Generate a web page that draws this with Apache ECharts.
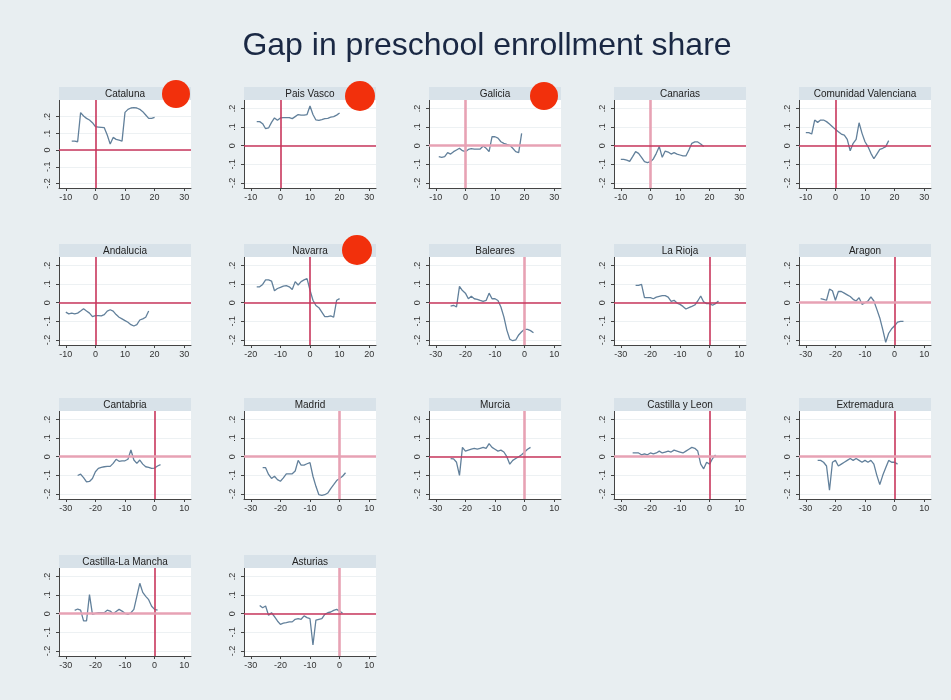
<!DOCTYPE html>
<html lang="en">
<head>
<meta charset="utf-8">
<title>Gap in preschool enrollment share</title>
<script src="https://cdn.jsdelivr.net/npm/echarts@6/dist/echarts.min.js"></script>
<style>
  html, body { margin: 0; padding: 0; background: #e8eef1; }
  #chart { width: 951px; height: 700px; }
</style>
</head>
<body>
<div id="chart"></div>
<script>
// ---- data ----
const regions = ['Cataluna', 'Pais Vasco', 'Galicia', 'Canarias', 'Comunidad Valenciana',
  'Andalucia', 'Navarra', 'Baleares', 'La Rioja', 'Aragon',
  'Cantabria', 'Madrid', 'Murcia', 'Castilla y Leon', 'Extremadura',
  'Castilla-La Mancha', 'Asturias'];

// first period of each region's series (one value per period after that)
const startT = [-8, -8, -9, -10, -10, -10, -18, -25, -25, -25, -26, -26, -25, -26, -26, -27, -27];

const cataluna = [0.054, 0.054, 0.05, 0.224, 0.204, 0.19, 0.18, 0.164, 0.14, 0.138, 0.136, 0.134, 0.09, 0.036, 0.076, 0.064, 0.06, 0.054, 0.226, 0.244, 0.252, 0.254, 0.252, 0.244, 0.23, 0.21, 0.19, 0.19, 0.196];
const paisVasco = [0.129, 0.129, 0.118, 0.091, 0.095, 0.125, 0.149, 0.136, 0.149, 0.151, 0.151, 0.151, 0.145, 0.156, 0.167, 0.164, 0.164, 0.167, 0.213, 0.167, 0.138, 0.136, 0.14, 0.145, 0.147, 0.153, 0.156, 0.164, 0.175];
const galicia = [-0.059, -0.0625, -0.059, -0.0375, -0.045, -0.032, -0.023, -0.014, -0.027, -0.032, -0.02, -0.016, -0.018, -0.018, -0.018, -0.002, -0.014, -0.032, 0.048, 0.048, 0.041, 0.021, 0.0125, 0.007, 0.002, -0.014, -0.032, -0.0375, 0.066];
const canarias = [-0.073, -0.073, -0.077, -0.084, -0.059, -0.032, -0.041, -0.0625, -0.086, -0.091, -0.086, -0.071, -0.041, -0.005, -0.0625, -0.029, -0.034, -0.045, -0.0375, -0.045, -0.05, -0.055, -0.055, -0.023, 0.0125, 0.02, 0.02, 0.009, -0.005];
const valenciana = [0.07, 0.07, 0.0625, 0.1375, 0.125, 0.1375, 0.1375, 0.129, 0.116, 0.102, 0.0875, 0.075, 0.0625, 0.057, 0.034, -0.027, 0.0125, 0.034, 0.123, 0.066, 0.021, -0.005, -0.041, -0.07, -0.045, -0.02, -0.014, -0.005, 0.027];
const andalucia = [-0.051, -0.06, -0.056, -0.06, -0.056, -0.045, -0.033, -0.045, -0.056, -0.075, -0.069, -0.069, -0.071, -0.064, -0.045, -0.038, -0.045, -0.064, -0.078, -0.087, -0.096, -0.105, -0.118, -0.125, -0.118, -0.093, -0.087, -0.078, -0.045];
const navarra = [0.085, 0.085, 0.098, 0.122, 0.122, 0.116, 0.064, 0.076, 0.082, 0.089, 0.091, 0.085, 0.071, 0.113, 0.095, 0.113, 0.122, 0.129, 0.067, 0.013, -0.015, -0.027, -0.051, -0.075, -0.075, -0.071, -0.078, 0.013, 0.022];
const baleares = [-0.019, -0.014, -0.023, 0.087, 0.065, 0.051, 0.021, 0.034, 0.021, 0.018, 0.012, 0.007, 0.012, 0.051, 0.021, 0.021, 0.012, -0.023, -0.076, -0.147, -0.196, -0.204, -0.2, -0.173, -0.156, -0.143, -0.143, -0.15, -0.161];
const laRioja = [0.093, 0.093, 0.098, 0.027, 0.027, 0.027, 0.021, 0.03, 0.034, 0.0375, 0.0375, 0.03, 0.007, 0.0125, -0.002, -0.009, -0.02, -0.034, -0.027, -0.02, -0.0125, 0.009, 0.036, 0.004, -0.005, -0.005, -0.014, -0.005, 0.009];
const aragon = [0.022, 0.018, 0.013, 0.073, 0.064, 0.013, 0.06, 0.06, 0.051, 0.042, 0.033, 0.018, 0.009, 0.027, -0.009, 0, 0.009, 0.031, 0.009, -0.036, -0.082, -0.145, -0.213, -0.164, -0.14, -0.124, -0.104, -0.1, -0.1];
const cantabria = [-0.101, -0.094, -0.112, -0.135, -0.133, -0.117, -0.081, -0.063, -0.058, -0.054, -0.052, -0.052, -0.036, -0.014, -0.025, -0.022, -0.022, -0.014, 0.036, -0.018, -0.036, -0.018, -0.04, -0.054, -0.058, -0.063, -0.061, -0.05, -0.043];
const madrid = [-0.059, -0.059, -0.095, -0.117, -0.105, -0.123, -0.132, -0.114, -0.092, -0.092, -0.092, -0.077, -0.02, -0.045, -0.045, -0.038, -0.032, -0.105, -0.159, -0.204, -0.207, -0.204, -0.195, -0.171, -0.15, -0.128, -0.117, -0.105, -0.086];
const murcia = [-0.01, -0.012, -0.03, -0.1, 0.05, 0.03, 0.035, 0.04, 0.045, 0.04, 0.045, 0.05, 0.045, 0.07, 0.05, 0.04, 0.03, 0.035, 0.025, 0, -0.04, -0.02, -0.01, 0, 0.01, 0.025, 0.04, 0.05];
const castillaLeon = [0.02, 0.02, 0.02, 0.01, 0.015, 0.01, 0.02, 0.015, 0.02, 0.03, 0.02, 0.025, 0.03, 0.025, 0.035, 0.03, 0.025, 0.02, 0.03, 0.04, 0.05, 0.045, 0.03, -0.04, -0.065, -0.03, -0.04, -0.01, 0.01];
const extremadura = [-0.02, -0.02, -0.03, -0.05, -0.18, -0.03, -0.02, -0.05, -0.04, -0.03, -0.02, -0.01, -0.02, -0.01, -0.02, -0.03, -0.02, -0.03, -0.02, -0.04, -0.1, -0.15, -0.1, -0.06, -0.02, -0.03, -0.03, -0.04];
const castillaMancha = [0.018, 0.025, 0.019, -0.039, -0.039, 0.102, -0.004, 0.002, 0.005, 0.005, 0.005, 0.019, 0.014, 0, 0.012, 0.023, 0.014, 0.002, -0.004, 0.005, 0.023, 0.093, 0.163, 0.114, 0.093, 0.075, 0.04, 0.023, 0.019];
const asturias = [0.044, 0.032, 0.041, -0.009, 0.005, -0.016, -0.039, -0.057, -0.051, -0.048, -0.044, -0.044, -0.03, -0.027, -0.03, -0.012, -0.021, -0.027, -0.168, -0.034, -0.03, -0.027, -0.004, 0.005, 0.009, 0.018, 0.023, 0.014, 0.002];

const values = [cataluna, paisVasco, galicia, canarias, valenciana, andalucia, navarra, baleares,
  laRioja, aragon, cantabria, madrid, murcia, castillaLeon, extremadura, castillaMancha, asturias];

// tick labels
const xTicksA = [-10, 0, 10, 20, 30];
const xTicksB = [-20, -10, 0, 10, 20];
const xTicksC = [-30, -20, -10, 0, 10];
const xTickSet = [xTicksA, xTicksA, xTicksA, xTicksA, xTicksA, xTicksA, xTicksB, xTicksC,
  xTicksC, xTicksC, xTicksC, xTicksC, xTicksC, xTicksC, xTicksC, xTicksC, xTicksC];
const yTicks = [-0.2, -0.1, 0, 0.1, 0.2];

// regions marked with a red dot
const marked = ['Cataluna', 'Pais Vasco', 'Galicia', 'Navarra'];

// ---- layout / style ----
const colLeft = [59, 244, 429, 614, 799];
const rowTop = [87, 244, 398, 555];
const headH = 13, plotW = 132, plotH = 88;
const yMin = -0.227;
const yMaxOf = name => name === 'Cataluna' ? 0.3 : 0.245;

const thin = { color: '#c8365c', width: 1.6, type: 'solid' };
const thick = { color: '#e7a2b4', width: 2.6, type: 'solid' };
// reference line style per panel: [vertical, horizontal]
const refStyle = [
  [thin, thin], [thin, thin], [thick, thick], [thick, thin], [thin, thin],
  [thin, thin], [thin, thin], [thick, thin], [thin, thin], [thin, thick],
  [thin, thick], [thick, thick], [thick, thin], [thin, thick], [thin, thick],
  [thin, thick], [thick, thin]
];

const font = 'Liberation Sans, Arial, Helvetica, sans-serif';
const axisColor = '#444';

function fmtY(v) {
  if (Math.abs(v) < 1e-9) return '0';
  return (v < 0 ? '-' : '') + '.' + Math.round(Math.abs(v) * 10);
}

const grids = [], xAxes = [], yAxes = [], series = [], graphics = [];

regions.forEach(function (name, i) {
  const c = i % 5, r = Math.floor(i / 5);
  const left = colLeft[c], top = rowTop[r];
  const ticks = xTickSet[i];

  grids.push({
    left: left, top: top + headH, width: plotW, height: plotH,
    show: true, backgroundColor: '#fff', borderWidth: 0
  });

  xAxes.push({
    type: 'value', gridIndex: i,
    min: ticks[0] - 2.3, max: ticks[ticks.length - 1] + 2.3,
    axisLine: { show: true, onZero: false, lineStyle: { color: axisColor, width: 1 } },
    axisTick: { show: true, customValues: ticks, length: 3, lineStyle: { color: axisColor } },
    axisLabel: { customValues: ticks, fontSize: 9, color: '#333', margin: 5, fontFamily: font },
    splitLine: { show: false }
  });

  yAxes.push({
    type: 'value', gridIndex: i,
    min: yMin, max: yMaxOf(name),
    axisLine: { show: true, onZero: false, lineStyle: { color: axisColor, width: 1 } },
    axisTick: { show: true, customValues: yTicks, length: 3, lineStyle: { color: axisColor } },
    axisLabel: { customValues: yTicks, rotate: 90, fontSize: 9, color: '#333', margin: 7,
      fontFamily: font, formatter: fmtY },
    splitLine: { show: true, lineStyle: { color: '#edf1f3', width: 1 } }
  });

  const data = values[i].map((v, k) => [startT[i] + k, v]);
  series.push({
    type: 'line', xAxisIndex: i, yAxisIndex: i, data: data,
    showSymbol: false, symbol: 'none',
    lineStyle: { color: '#62809b', width: 1.3 },
    z: 3,
    markLine: {
      silent: true, symbol: ['none', 'none'], label: { show: false },
      animation: false, emphasis: { disabled: true },
      data: [
        { xAxis: 0, lineStyle: Object.assign({}, refStyle[i][0]) },
        { yAxis: 0, lineStyle: Object.assign({}, refStyle[i][1]) }
      ]
    }
  });

  // panel header
  graphics.push({
    type: 'rect', shape: { x: left, y: top, width: plotW, height: headH },
    style: { fill: '#d8e2e9' }, z: 1
  });
  graphics.push({
    type: 'text', x: left + plotW / 2, y: top + headH / 2 + 0.5,
    style: { text: name, fill: '#222', fontSize: 10, fontFamily: font,
      align: 'center', verticalAlign: 'middle' }, z: 2
  });
});

// red dots on marked regions (top-right of header)
const dotPos = { 'Cataluna': [176, 94, 14], 'Pais Vasco': [360, 96, 15], 'Galicia': [544, 96, 14], 'Navarra': [357, 250, 15] };
marked.forEach(function (name) {
  const p = dotPos[name];
  graphics.push({
    type: 'circle', shape: { cx: p[0], cy: p[1], r: p[2] },
    style: { fill: '#f2300c' }, z: 20
  });
});

// main title
graphics.push({
  type: 'text', x: 487, y: 46,
  style: { text: 'Gap in preschool enrollment share', fill: '#1a2844', fontSize: 32,
    fontFamily: font, align: 'center', verticalAlign: 'middle' }, z: 5
});

const chart = echarts.init(document.getElementById('chart'), null, { renderer: 'canvas' });
chart.setOption({
  backgroundColor: '#e8eef1',
  animation: false,
  grid: grids,
  xAxis: xAxes,
  yAxis: yAxes,
  series: series,
  graphic: graphics
});
</script>
</body>
</html>
